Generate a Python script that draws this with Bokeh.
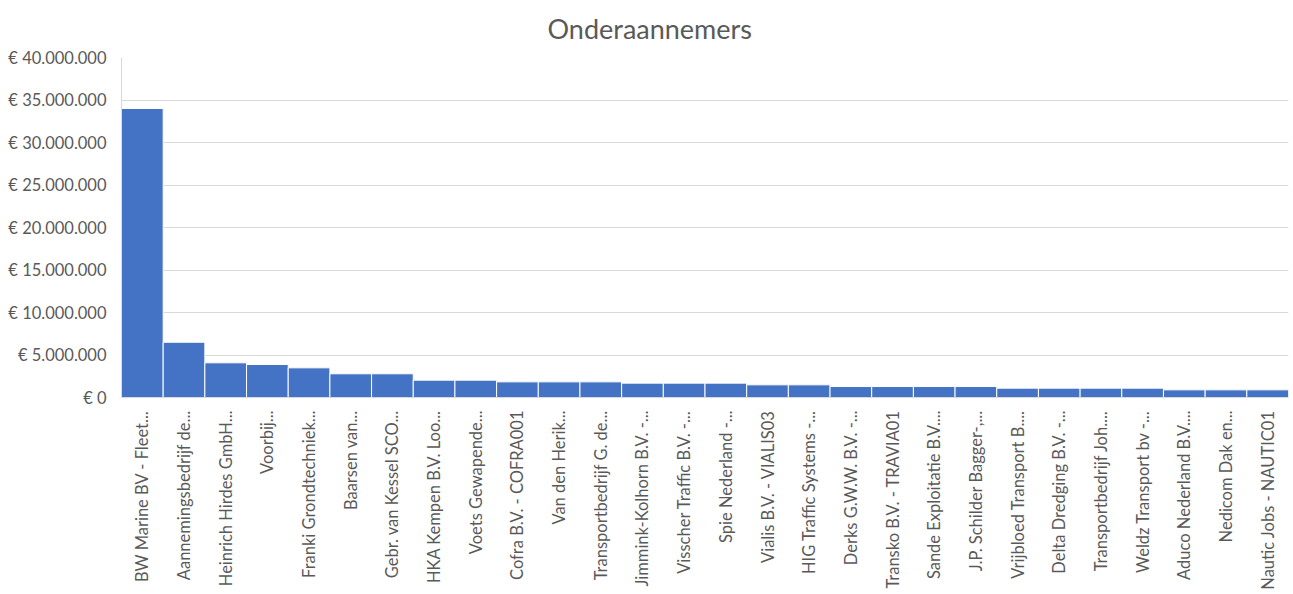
import math
from bokeh.plotting import figure
from bokeh.models import FactorRange, Range1d, FixedTicker
from bokeh.embed import file_html
from bokeh.resources import INLINE

categories = [
    "BW Marine BV - Fleet...", "Aannemingsbedrijf de...", "Heinrich Hirdes GmbH...",
    "Voorbij...", "Franki Grondtechniek...", "Baarsen van...", "Gebr. van Kessel SCO...",
    "HKA Kempen B.V. Loo...", "Voets Gewapende...", "Cofra B.V. - COFRA001",
    "Van den Herik...", "Transportbedrijf G. de...", "Jimmink-Kolhorn B.V. -...",
    "Visscher Traffic B.V. -...", "Spie Nederland -...", "Vialis B.V. - VIALIS03",
    "HIG Traffic Systems -...", "Derks G.W.W. B.V. -...", "Transko B.V. - TRAVIA01",
    "Sande Exploitatie B.V....", "J.P. Schilder Bagger-,...", "Vrijbloed Transport B....",
    "Delta Dredging B.V. -...", "Transportbedrijf Joh....", "Weldz Transport bv -...",
    "Aduco Nederland B.V....", "Nedicom Dak en...", "Nautic Jobs - NAUTIC01",
]
values = [
    34000000, 6500000, 4080000, 3880000, 3490000, 2790000, 2790000,
    2040000, 2040000, 1840000, 1840000, 1840000, 1690000,
    1690000, 1690000, 1490000, 1490000, 1290000, 1290000,
    1290000, 1290000, 1100000, 1100000, 1100000, 1100000,
    900000, 900000, 900000,
]
y_ticks = [0, 5000000, 10000000, 15000000, 20000000, 25000000, 30000000, 35000000, 40000000]

def euro(v):
    return "€ " + f"{v:,}".replace(",", ".")

FONT = "Lato"
GRAY = "#595959"

p = figure(
    width=1291, height=592,
    x_range=FactorRange(*categories, range_padding=0),
    y_range=Range1d(0, 40000000),
    output_backend="svg", toolbar_location=None,
    title="Onderaannemers",
    min_border_left=121, min_border_right=3, min_border_top=57, min_border_bottom=195,
)

p.vbar(x=categories, top=values, width=1.0, fill_color="#4472C4", line_color="white", line_width=1)

p.title.align = "left"
p.title.offset = 426
p.title.vertical_align = "top"
p.title.text_font = FONT
p.title.text_font_size = "27px"
p.title.text_font_style = "normal"
p.title.text_color = GRAY
p.title.standoff = 22

p.outline_line_color = None
p.xgrid.grid_line_color = None
p.ygrid.grid_line_color = "#d9d9d9"
p.ygrid.grid_line_width = 1

p.yaxis.ticker = FixedTicker(ticks=y_ticks)
p.yaxis.major_label_overrides = {t: euro(t) for t in y_ticks}
p.yaxis.axis_line_color = "#d9d9d9"
p.yaxis.major_tick_line_color = None
p.yaxis.minor_tick_line_color = None
p.yaxis.major_label_text_font = FONT
p.yaxis.major_label_text_font_size = "16.5px"
p.yaxis.major_label_text_color = GRAY
p.yaxis.major_label_standoff = 9

p.xaxis.axis_line_color = "#d9d9d9"
p.xaxis.major_tick_line_color = None
p.xaxis.minor_tick_line_color = None
p.xaxis.major_label_orientation = math.pi / 2
p.xaxis.major_label_text_font = FONT
p.xaxis.major_label_text_font_size = "16.5px"
p.xaxis.major_label_text_color = GRAY
p.xaxis.major_label_standoff = 7

open("out.html", "w").write(file_html(p, INLINE))
